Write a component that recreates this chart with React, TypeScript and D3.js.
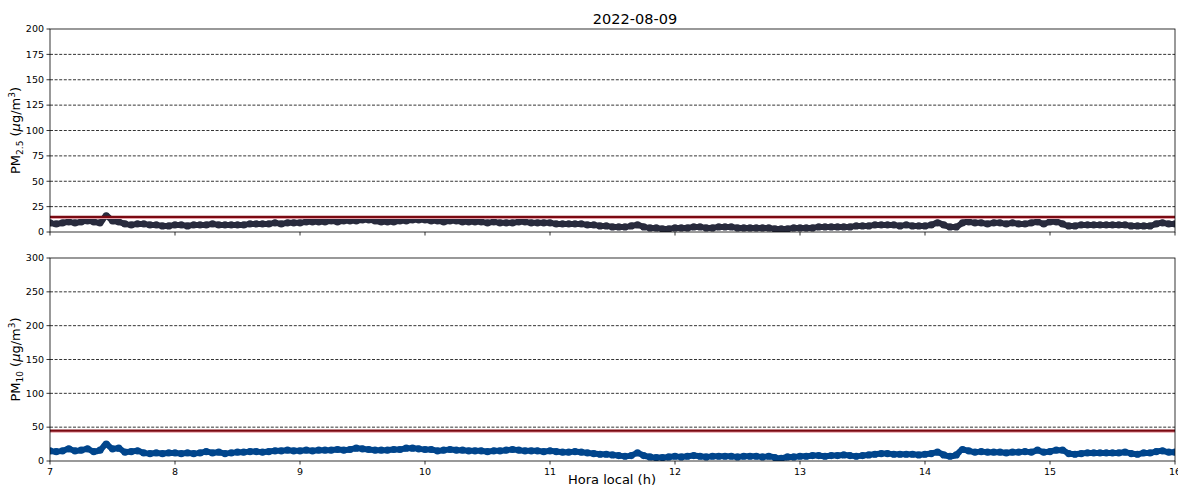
import React from 'react';
import * as d3 from 'd3';

// Readings every 3 minutes from 7:00 to 16:00 (local hour)
const startHour = 7;
const stepMinutes = 3;

const pm25 = [
  // 7h
  9, 8, 9, 10, 9, 10, 11, 10, 9, 16, 11, 10, 8, 7, 8, 8, 7, 7, 6, 6,
  // 8h
  7, 7, 6, 7, 7, 7, 8, 7, 7, 7, 7, 7, 8, 8, 8, 8, 9, 8, 9, 9,
  // 9h
  9, 10, 10, 10, 10, 11, 10, 11, 11, 11, 12, 12, 11, 10, 10, 10, 11, 11, 12, 12,
  // 10h
  12, 11, 11, 10, 11, 11, 10, 10, 10, 10, 9, 10, 9, 9, 9, 10, 10, 9, 9, 9,
  // 11h
  9, 8, 8, 8, 8, 8, 7, 7, 6, 6, 5, 5, 5, 6, 7, 5, 4, 4, 3, 3,
  // 12h
  4, 4, 4, 5, 5, 4, 4, 5, 5, 5, 4, 4, 4, 4, 4, 4, 3, 3, 3, 4,
  // 13h
  4, 4, 4, 5, 5, 5, 5, 5, 5, 6, 6, 6, 7, 7, 7, 7, 6, 7, 6, 6,
  // 14h
  6, 7, 9, 7, 5, 5, 9, 10, 9, 9, 8, 9, 9, 8, 9, 8, 8, 9, 10, 8,
  // 15h
  10, 10, 8, 6, 6, 7, 7, 7, 7, 7, 7, 7, 7, 6, 6, 6, 6, 8, 9, 8,
  // 16h
  8,
];

const pm10 = [
  // 7h
  15, 14, 15, 18, 15, 16, 18, 14, 16, 25, 18, 19, 13, 14, 15, 12, 11, 12, 11, 12,
  // 8h
  12, 11, 12, 11, 12, 14, 12, 13, 11, 12, 13, 13, 14, 14, 13, 14, 15, 15, 16, 15,
  // 9h
  15, 16, 15, 16, 16, 16, 17, 16, 17, 19, 18, 17, 16, 16, 16, 17, 17, 19, 19, 18,
  // 10h
  17, 17, 15, 16, 17, 16, 16, 15, 15, 15, 14, 15, 15, 16, 17, 16, 15, 15, 15, 14,
  // 11h
  15, 14, 13, 13, 14, 13, 12, 11, 10, 10, 9, 8, 7, 8, 12, 8, 6, 5, 5, 6,
  // 12h
  7, 6, 7, 8, 7, 6, 7, 7, 7, 7, 6, 7, 7, 7, 6, 7, 5, 4, 6, 6,
  // 13h
  7, 7, 8, 8, 7, 8, 8, 9, 8, 7, 8, 9, 10, 11, 11, 10, 10, 10, 10, 9,
  // 14h
  10, 11, 13, 9, 7, 9, 17, 15, 13, 14, 13, 13, 13, 12, 13, 13, 14, 13, 16, 13,
  // 15h
  14, 16, 16, 11, 10, 11, 12, 12, 12, 12, 12, 12, 13, 11, 10, 12, 12, 14, 15, 13,
  // 16h
  13,
];

const xTicks = [7, 8, 9, 10, 11, 12, 13, 14, 15, 16];
const pm25Ticks = [0, 25, 50, 75, 100, 125, 150, 175, 200];
const pm10Ticks = [0, 50, 100, 150, 200, 250, 300];
const pm25Limit = 15;
const pm10Limit = 45;

const width = 1178;
const height = 488;
const left = 50;
const right = 1175;
const font = 'DejaVu Sans, sans-serif';

const x = d3.scaleLinear().domain([7, 16]).range([left, right]);

type PanelProps = {
  values: number[];
  ticks: number[];
  top: number;
  bottom: number;
  limit: number;
  color: string;
  label: string;
  showXLabels: boolean;
};

const Panel = ({ values, ticks, top, bottom, limit, color, label, showXLabels }: PanelProps) => {
  const y = d3
    .scaleLinear()
    .domain([0, ticks[ticks.length - 1]])
    .range([bottom, top]);

  const points = values.map((v, i) => ({ h: startHour + (i * stepMinutes) / 60, v }));
  const line = d3
    .line<{ h: number; v: number }>()
    .x((d) => x(d.h))
    .y((d) => y(d.v))
    .curve(d3.curveMonotoneX);

  const clipId = `clip-${top}`;
  const midY = (top + bottom) / 2;

  return (
    <g>
      <defs>
        <clipPath id={clipId}>
          <rect x={left} y={top} width={right - left} height={bottom - top} />
        </clipPath>
      </defs>

      {/* dashed grid */}
      {ticks.slice(1, -1).map((t) => (
        <line
          key={t}
          x1={left}
          x2={right}
          y1={y(t)}
          y2={y(t)}
          stroke="#000"
          strokeWidth={0.8}
          strokeDasharray="3,1.6"
        />
      ))}

      {/* data */}
      <g clipPath={`url(#${clipId})`}>
        <path d={line(points) ?? ''} fill="none" stroke={color} strokeWidth={6} strokeLinejoin="round" />
        {points.map((d, i) => (
          <circle key={i} cx={x(d.h)} cy={y(d.v)} r={3.6} fill={color} />
        ))}
        {/* limit line */}
        <line x1={left} x2={right} y1={y(limit) + 1.5} y2={y(limit) + 1.5} stroke="#e8a0a8" strokeWidth={1.5} />
        <line x1={left} x2={right} y1={y(limit)} y2={y(limit)} stroke="#7b0a12" strokeWidth={2.2} />
      </g>

      {/* frame */}
      <rect x={left} y={top} width={right - left} height={bottom - top} fill="none" stroke="#000" strokeWidth={0.8} />

      {/* y ticks */}
      {ticks.map((t) => (
        <g key={t} transform={`translate(${left},${y(t)})`}>
          <line x1={-3.5} x2={0} stroke="#000" strokeWidth={0.8} />
          <text x={-6} dy="0.35em" textAnchor="end" fontSize={9.5} fontFamily={font} fill="#000">
            {t}
          </text>
        </g>
      ))}

      {/* x ticks */}
      {xTicks.map((t) => (
        <g key={t} transform={`translate(${x(t)},${bottom})`}>
          <line y1={0} y2={3.5} stroke="#000" strokeWidth={0.8} />
          {showXLabels && (
            <text y={14} textAnchor="middle" fontSize={9.5} fontFamily={font} fill="#000">
              {t}
            </text>
          )}
        </g>
      ))}

      {/* y label */}
      <text
        transform={`translate(20,${midY}) rotate(-90)`}
        textAnchor="middle"
        fontSize={13}
        fontFamily={font}
        fill="#000"
      >
        PM
        <tspan fontSize={9} dy={3}>
          {label}
        </tspan>
        <tspan dy={-3}> (</tspan>
        <tspan fontStyle="italic">μ</tspan>
        <tspan>g/m</tspan>
        <tspan fontSize={9} dy={-5}>
          3
        </tspan>
        <tspan dy={5}>)</tspan>
      </text>
    </g>
  );
};

export default function App() {
  return (
    <svg
      width={width}
      height={height}
      style={{ position: 'absolute', left: 0, top: 0, background: '#fff' }}
    >
      <rect width={width} height={height} fill="#fff" />
      <text x={635} y={24} textAnchor="middle" fontSize={14.5} fontFamily={font} fill="#000">
        2022-08-09
      </text>
      <Panel
        values={pm25}
        ticks={pm25Ticks}
        top={29}
        bottom={232}
        limit={pm25Limit}
        color="#282b3d"
        label="2.5"
        showXLabels={false}
      />
      <Panel
        values={pm10}
        ticks={pm10Ticks}
        top={258}
        bottom={461}
        limit={pm10Limit}
        color="#00458c"
        label="10"
        showXLabels={true}
      />
      <text x={612} y={484} textAnchor="middle" fontSize={13} fontFamily={font} fill="#000">
        Hora local (h)
      </text>
    </svg>
  );
}
